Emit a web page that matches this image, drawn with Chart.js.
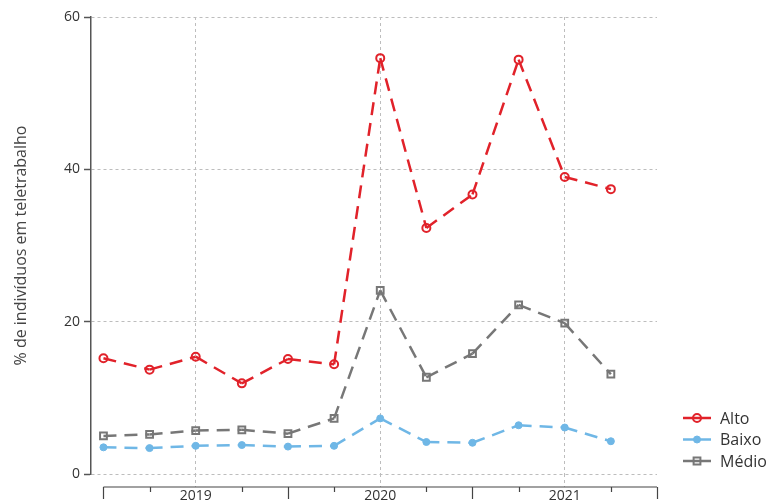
<!DOCTYPE html>
<html lang="pt">
<head>
<meta charset="utf-8">
<title>Teletrabalho por nível</title>
<script src="https://cdn.jsdelivr.net/npm/chart.js@4.4.1/dist/chart.umd.min.js"></script>
<style>
    html, body { margin: 0; padding: 0; background: #fff; }
    #caixa { width: 771px; height: 503px; }
</style>
</head>
<body>
<div id="caixa"><canvas id="grafico"></canvas></div>
<script>
// Trimestres (eixo x por índice) e rótulos de ano
const periodos = [
    '2019 T1', '2019 T2', '2019 T3', '2019 T4',
    '2020 T1', '2020 T2', '2020 T3', '2020 T4',
    '2021 T1', '2021 T2', '2021 T3', '2021 T4'
];
const anos = ['2019', '2020', '2021'];
const ticksY = [0, 20, 40, 60];

// % de indivíduos em teletrabalho
const alto  = [15.2, 13.7, 15.4, 11.9, 15.1, 14.4, 54.6, 32.3, 36.7, 54.4, 39.0, 37.4];
const baixo = [3.5, 3.4, 3.7, 3.8, 3.6, 3.7, 7.3, 4.2, 4.1, 6.4, 6.1, 4.3];
const medio = [5.0, 5.2, 5.7, 5.8, 5.3, 7.3, 24.1, 12.7, 15.8, 22.2, 19.8, 13.1];

const porAno = periodos.length / anos.length;
const fonte = "'Open Sans', sans-serif";
const tracejado = [13, 8];

const pontos = (serie) => serie.map((v, i) => ({ x: i, y: v }));

// cada segmento é traçado separado, assim o tracejado recomeça em cada ponto
const segmentoSolto = { borderDashOffset: c => (c.p0DataIndex % 2) * 0.001 };

// eixo de baixo em forma de chave: traço longo entre anos, curto entre trimestres
const eixoAnos = {
    id: 'eixoAnos',
    afterDraw(chart) {
        const { ctx, chartArea, scales: { x } } = chart;
        const y0 = chartArea.bottom + 13;
        ctx.save();
        ctx.strokeStyle = '#444';
        ctx.lineWidth = 1.2;
        ctx.beginPath();
        ctx.moveTo(x.getPixelForValue(0), y0);
        ctx.lineTo(x.getPixelForValue(periodos.length), y0);
        for (let i = 0; i <= periodos.length; i++) {
            if (i % porAno === porAno / 2) continue;
            const px = Math.round(x.getPixelForValue(i)) + 0.5;
            ctx.moveTo(px, y0);
            ctx.lineTo(px, y0 + (i % porAno === 0 ? 12 : 5));
        }
        ctx.stroke();
        ctx.restore();
    }
};

// legenda com linha e marcador, no canto inferior direito
const legendaLinhas = {
    id: 'legendaLinhas',
    afterDraw(chart) {
        const { ctx, chartArea } = chart;
        const x0 = chartArea.right + 26;
        const passo = 21.5;
        const topo = chartArea.bottom - 56;
        chart.data.datasets.forEach((ds, i) => {
            const y = topo + i * passo;
            ctx.save();
            ctx.strokeStyle = ds.borderColor;
            ctx.lineWidth = ds.borderWidth;
            ctx.beginPath();
            ctx.moveTo(x0, y);
            ctx.lineTo(x0 + 28, y);
            ctx.stroke();
            ctx.fillStyle = ds.pointBackgroundColor;
            ctx.strokeStyle = ds.pointBorderColor;
            ctx.lineWidth = ds.pointBorderWidth;
            Chart.helpers.drawPoint(ctx, {
                pointStyle: ds.pointStyle,
                radius: ds.pointRadius,
                borderWidth: ds.pointBorderWidth,
                rotation: 0
            }, x0 + 14, y);
            ctx.fillStyle = '#333';
            ctx.font = '16px ' + fonte;
            ctx.textBaseline = 'middle';
            ctx.fillText(ds.label, x0 + 37, y + 1);
            ctx.restore();
        });
    }
};

new Chart(document.getElementById('grafico'), {
    type: 'line',
    data: {
        datasets: [
            {
                label: 'Alto',
                data: pontos(alto),
                borderColor: '#e1222a',
                borderWidth: 2.5,
                borderDash: tracejado,
                pointStyle: 'circle',
                pointRadius: 4,
                pointBorderWidth: 2,
                pointBorderColor: '#e1222a',
                pointBackgroundColor: 'rgba(255,255,255,0)',
                segment: segmentoSolto
            },
            {
                label: 'Baixo',
                data: pontos(baixo),
                borderColor: '#6fb7e6',
                borderWidth: 2.5,
                borderDash: tracejado,
                pointStyle: 'circle',
                pointRadius: 3.5,
                pointBorderWidth: 1,
                pointBorderColor: '#6fb7e6',
                pointBackgroundColor: '#6fb7e6',
                segment: segmentoSolto
            },
            {
                label: 'Médio',
                data: pontos(medio),
                borderColor: '#777777',
                borderWidth: 2.5,
                borderDash: tracejado,
                pointStyle: 'rect',
                pointRadius: 4.8,
                pointBorderWidth: 2,
                pointBorderColor: '#777777',
                pointBackgroundColor: 'rgba(255,255,255,0)',
                segment: segmentoSolto
            }
        ]
    },
    options: {
        responsive: true,
        maintainAspectRatio: false,
        animation: false,
        devicePixelRatio: 1,
        layout: { padding: { top: 17, right: 114, bottom: 0, left: 0 } },
        plugins: {
            legend: { display: false },
            tooltip: { enabled: false }
        },
        scales: {
            x: {
                type: 'linear',
                min: -0.27,
                max: periodos.length,
                afterBuildTicks: s => { s.ticks = anos.map((a, i) => ({ value: i * porAno + porAno / 2 })); },
                afterFit: s => { s.height = 29; },
                ticks: {
                    autoSkip: false,
                    maxRotation: 0,
                    padding: 1,
                    color: '#333',
                    font: { family: fonte, size: 14 },
                    callback: v => anos[Math.round((v - porAno / 2) / porAno)]
                },
                grid: {
                    color: '#bdbdbd',
                    lineWidth: 1,
                    tickLength: 13,
                    tickBorderDash: [3, 3]
                },
                border: { display: false, dash: [3, 3] }
            },
            y: {
                min: 0,
                max: 60,
                afterBuildTicks: s => { s.ticks = ticksY.map(v => ({ value: v })); },
                afterFit: s => { s.width = 91; },
                ticks: {
                    padding: 4,
                    color: '#333',
                    font: { family: fonte, size: 14 }
                },
                grid: {
                    color: '#bdbdbd',
                    lineWidth: 1,
                    tickLength: 7,
                    tickColor: '#555',
                    tickWidth: 1.5,
                    tickBorderDash: []
                },
                border: { display: true, color: '#555', width: 1.5, dash: [3, 3] },
                title: {
                    display: true,
                    text: '% de indivíduos em teletrabalho',
                    color: '#444',
                    font: { family: fonte, size: 16 },
                    padding: { top: 12, bottom: 0 }
                }
            }
        }
    },
    plugins: [eixoAnos, legendaLinhas]
});
</script>
</body>
</html>
